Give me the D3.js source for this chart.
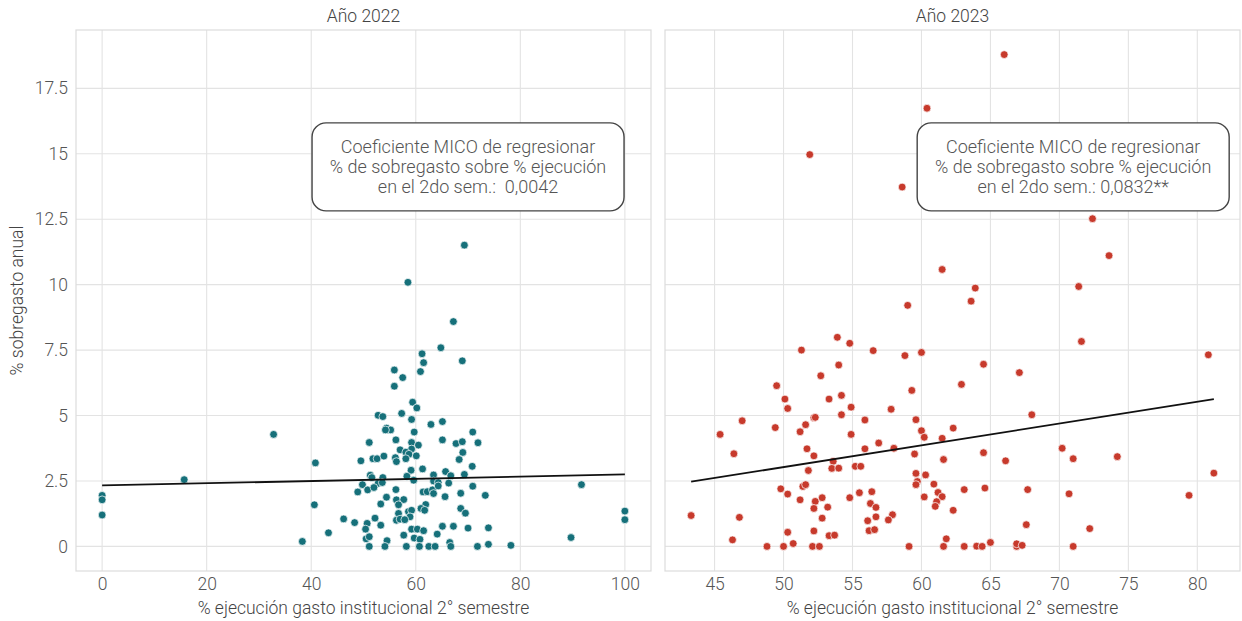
<!DOCTYPE html>
<html>
<head>
<meta charset="utf-8">
<title>Sobregasto vs ejecución</title>
<script src="https://cdn.jsdelivr.net/npm/d3@7"></script>
<style>
  body { margin: 0; background: #fff; }
  text { font-family: Roboto, "Noto Sans", sans-serif; }
</style>
</head>
<body>
<script>
// Datos
const years = ["Año 2022", "Año 2023"];

const x2022 = [67.2,64.8,61.2,61.5,68.9,60.9,55.9,57.5,55.9,59.4,60.2,57.3,52.8,53.7,59.2,62.9,65.1,54.4,55.2,54.2,
  59.7,70.9,56.2,65.1,51.1,67.7,68.9,71.9,59.2,60.5,57.0,59.2,58.1,58.7,60.1,69.0,49.5,51.8,52.6,53.9,
  56.1,56.3,58.1,68.3,70.8,59.1,61.3,65.7,51.3,51.6,53.7,58.3,63.4,66.7,69.3,59.6,63.4,64.3,66.3,49.8,
  52.8,53.6,70.9,48.9,50.8,52.0,56.2,61.4,62.2,63.2,63.4,64.3,68.6,65.6,73.3,54.4,53.3,56.3,57.7,56.7,
  61.9,61.0,61.7,68.6,69.5,58.6,59.2,56.7,58.9,56.3,57.0,57.9,46.2,48.3,52.2,50.7,53.3,50.4,59.2,60.3,
  61.5,65.1,67.2,70.0,73.9,57.7,64.1,43.3,50.5,51.1,54.5,59.7,60.8,66.5,73.9,38.3,51.1,54.1,58.2,60.7,
  62.5,63.7,66.7,71.8,78.2,89.7,91.7,100,100,40.6,40.8,0,0,0,15.7,32.8,69.3,58.5];
const y2022 = [8.59,7.59,7.36,7.02,7.09,6.68,6.74,6.45,6.12,5.51,5.29,5.08,5.01,4.96,4.85,4.66,4.77,4.52,4.45,4.45,
  4.37,4.37,4.07,4.07,3.97,3.93,4.00,3.96,3.97,3.87,3.69,3.72,3.60,3.52,3.46,3.59,3.27,3.35,3.35,3.45,
  3.39,3.24,3.35,3.32,3.06,2.91,2.96,2.86,2.72,2.63,2.63,2.68,2.73,2.70,2.75,2.53,2.50,2.44,2.42,2.36,
  2.41,2.44,2.30,2.08,2.16,2.25,2.17,2.08,2.09,2.16,2.02,2.31,2.03,1.90,1.95,1.88,1.62,1.78,1.79,1.59,
  1.60,1.45,1.38,1.45,1.27,1.33,1.38,1.26,1.13,1.00,1.04,1.02,1.05,0.91,1.08,0.88,0.81,0.66,0.66,0.66,
  0.60,0.77,0.77,0.70,0.71,0.43,0.47,0.52,0.29,0.37,0.22,0.32,0.27,0.15,0.08,0.19,0,0,0,0,
  0,0,0,0,0.04,0.34,2.36,1.35,1.02,1.59,3.19,1.95,1.78,1.20,2.55,4.28,11.51,10.09];

const x2023 = [60.4,51.9,58.6,61.5,59.0,66.0,72.4,73.6,63.9,63.6,71.4,
  53.9,54.8,51.3,56.5,58.8,60.0,54.0,52.7,49.5,59.3,50.1,53.3,54.2,50.3,54.9,54.2,57.8,52.2,52.3,55.9,
  59.6,47.0,51.6,49.4,51.2,54.9,60.0,60.2,62.3,61.5,45.4,51.7,55.9,56.9,58.0,46.4,52.2,59.5,61.6,53.6,
  53.5,54.0,51.8,55.2,55.6,59.6,60.3,59.7,59.6,60.9,49.8,50.3,51.4,51.6,51.2,52.3,52.8,52.2,53.2,54.8,
  55.5,56.4,56.3,56.7,52.8,56.7,56.1,57.9,57.6,60.2,61.2,61.5,61.1,61.0,62.3,43.3,46.8,46.3,50.3,50.7,
  52.2,53.3,53.7,56.2,56.6,61.8,48.8,50.0,52.1,52.6,59.1,61.6,
  71.6,80.8,64.5,67.1,62.9,68.0,64.5,66.1,70.2,71.0,74.2,81.2,79.4,63.1,64.6,67.7,70.7,67.6,72.2,
  63.1,64.0,64.4,65.0,66.9,66.9,67.3,71.0];
const y2023 = [16.74,14.97,13.73,10.58,9.21,18.79,12.52,11.11,9.87,9.37,9.93,
  7.99,7.76,7.50,7.48,7.29,7.41,6.93,6.52,6.14,5.96,5.63,5.63,5.77,5.27,5.32,5.03,5.24,4.92,4.93,4.83,
  4.84,4.80,4.65,4.54,4.38,4.28,4.42,4.17,4.52,4.13,4.28,3.73,3.73,3.95,3.75,3.54,3.46,3.53,3.32,3.25,
  2.98,2.99,2.90,3.06,3.06,2.79,2.73,2.48,2.36,2.38,2.20,2.00,2.29,2.36,1.78,1.72,1.86,1.45,1.50,1.86,
  2.05,2.09,1.64,1.49,1.08,1.13,0.98,1.21,1.01,1.89,2.06,1.90,1.71,1.53,1.38,1.18,1.11,0.25,0.54,0.11,
  0.59,0.41,0.43,0.60,0.64,0.29,0,0,0,0,0,0,
  7.83,7.32,6.96,6.64,6.19,5.03,3.58,3.27,3.75,3.35,3.43,2.80,1.95,2.17,2.23,2.17,2.01,0.83,0.68,
  0,0.01,0,0.15,0,0.10,0.04,0];

// Recta MICO por año
const intercepts = [2.33, -1.13];
const slopes = [0.0042, 0.0832];
const coefLabels = ["0,0042", "0,0832**"];

const yTicks = [0, 2.5, 5, 7.5, 10, 12.5, 15, 17.5];
const xTicks2022 = [0, 20, 40, 60, 80, 100];
const xTicks2023 = [45, 50, 55, 60, 65, 70, 75, 80];
const labelPos = [[70, 14.5], [71, 14.5]];

const W = 1242, H = 621;
const pTop = 30, pBottom = 571, pw = 575;
const panelLeft = [76, 665];
const colors = ["#16707a", "#c73a2c"];

const svg = d3.select("body").append("svg")
  .attr("width", W).attr("height", H);

const yMax = d3.max(y2023.concat(y2022));
const yPad = yMax * 0.05;
const yScale = d3.scaleLinear().domain([-yPad, yMax + yPad]).range([pBottom, pTop]);

const datos = [
  { xs: x2022, ys: y2022, ticks: xTicks2022 },
  { xs: x2023, ys: y2023, ticks: xTicks2023 }
];

datos.forEach(function(d, i) {
  const x0 = d3.min(d.xs), x1 = d3.max(d.xs);
  const pad = (x1 - x0) * 0.05;
  const xScale = d3.scaleLinear().domain([x0 - pad, x1 + pad])
    .range([panelLeft[i], panelLeft[i] + pw]);
  const g = svg.append("g");

  // grilla
  g.selectAll("line.gx").data(d.ticks).enter().append("line")
    .attr("class", "gx")
    .attr("x1", v => xScale(v)).attr("x2", v => xScale(v))
    .attr("y1", pTop).attr("y2", pBottom)
    .attr("stroke", "#e3e3e3").attr("stroke-width", 1.1);
  g.selectAll("line.gy").data(yTicks).enter().append("line")
    .attr("class", "gy")
    .attr("x1", panelLeft[i]).attr("x2", panelLeft[i] + pw)
    .attr("y1", v => yScale(v)).attr("y2", v => yScale(v))
    .attr("stroke", "#e3e3e3").attr("stroke-width", 1.1);
  g.append("rect")
    .attr("x", panelLeft[i]).attr("y", pTop)
    .attr("width", pw).attr("height", pBottom - pTop)
    .attr("fill", "none").attr("stroke", "#dcdcdc").attr("stroke-width", 1.2);

  // eje x
  const ax = d3.axisBottom(xScale).tickValues(d.ticks).tickSize(0).tickPadding(7);
  g.append("g").attr("transform", "translate(0," + pBottom + ")").call(ax)
    .call(s => s.select(".domain").remove())
    .selectAll("text")
    .attr("font-size", "17.5px").attr("font-weight", 300).attr("fill", "#555")
    .style("font-family", "Roboto, sans-serif");

  g.append("text")
    .attr("x", panelLeft[i] + pw / 2).attr("y", 614)
    .attr("text-anchor", "middle")
    .attr("font-size", "17.5px").attr("font-weight", 300).attr("fill", "#444")
    .text("% ejecución gasto institucional 2° semestre");

  // título del panel
  g.append("text")
    .attr("x", panelLeft[i] + pw / 2).attr("y", 22)
    .attr("text-anchor", "middle")
    .attr("font-size", "17.5px").attr("font-weight", 300).attr("fill", "#444")
    .text(years[i]);

  // puntos
  g.selectAll("circle").data(d.xs).enter().append("circle")
    .attr("cx", (v) => xScale(v))
    .attr("cy", (v, j) => yScale(d.ys[j]))
    .attr("r", 3.9)
    .attr("fill", colors[i])
    .attr("stroke", "#fff").attr("stroke-width", 0.7);

  // recta de regresión
  g.append("line")
    .attr("x1", xScale(x0)).attr("y1", yScale(intercepts[i] + slopes[i] * x0))
    .attr("x2", xScale(x1)).attr("y2", yScale(intercepts[i] + slopes[i] * x1))
    .attr("stroke", "#111").attr("stroke-width", 1.8);

  // etiqueta
  const lx = xScale(labelPos[i][0]), ly = yScale(labelPos[i][1]);
  const lab = g.append("g");
  const box = lab.append("rect");
  const lines = ["Coeficiente MICO de regresionar",
    "% de sobregasto sobre % ejecución",
    "en el 2do sem.: " + (i === 0 ? " " : "") + coefLabels[i]];
  const t = lab.append("text")
    .attr("text-anchor", "middle")
    .attr("font-size", "18px").attr("font-weight", 300).attr("fill", "#555")
    .attr("xml:space", "preserve");
  lines.forEach(function(s, k) {
    t.append("tspan").attr("x", lx).attr("y", ly - 14 + k * 20).text(s);
  });
  box.attr("x", lx - 156).attr("y", ly - 44)
    .attr("width", 312).attr("height", 88)
    .attr("rx", 14).attr("ry", 14)
    .attr("fill", "#fff").attr("stroke", "#444").attr("stroke-width", 1.4);
});

// eje y (solo a la izquierda)
svg.append("g").attr("transform", "translate(" + panelLeft[0] + ",0)")
  .call(d3.axisLeft(yScale).tickValues(yTicks).tickSize(0).tickPadding(8)
    .tickFormat(d3.format("~g")))
  .call(s => s.select(".domain").remove())
  .selectAll("text")
  .attr("font-size", "17.5px").attr("font-weight", 300).attr("fill", "#555")
  .style("font-family", "Roboto, sans-serif");

svg.append("text")
  .attr("transform", "translate(23," + (pTop + pBottom) / 2 + ") rotate(-90)")
  .attr("text-anchor", "middle")
  .attr("font-size", "17.5px").attr("font-weight", 300).attr("fill", "#444")
  .text("% sobregasto anual");
</script>
</body>
</html>
